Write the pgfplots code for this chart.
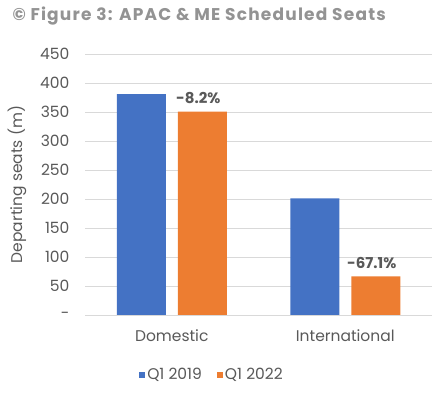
\documentclass[border=0pt]{standalone}
\usepackage{fontspec}
\setmainfont{Poppins}
\usepackage{pgfplots}
\pgfplotsset{compat=1.18}
\definecolor{cblue}{HTML}{4472C4}
\definecolor{corange}{HTML}{ED7D31}
\definecolor{tgray}{HTML}{595959}
\definecolor{ggray}{HTML}{D9D9D9}
\begin{document}
\begin{tikzpicture}
\useasboundingbox (0,0) rectangle (435pt,395pt);
\node[anchor=west, text=gray!85, font=\fontsize{17}{19}\selectfont\bfseries\addfontfeatures{LetterSpace=7}] at (9pt,379pt) {© Figure 3: APAC \& ME Scheduled Seats};
\begin{axis}[
  at={(85pt,80pt)}, anchor=south west,
  scale only axis, width=347pt, height=261pt,
  ymin=0, ymax=450, ytick={0,50,...,450},
  yticklabels={-,50,100,150,200,250,300,350,400,450},
  xmin=-0.5, xmax=1.5, xtick={0,1}, xticklabels={Domestic,International},
  axis line style={draw=none}, major tick style={draw=none},
  ymajorgrids, grid style={ggray, line width=0.8pt},
  ybar, bar width=49pt,
  ylabel={Departing seats (m)},
  every axis y label/.style={at={(axis description cs:-0.196,0.5)}, rotate=90, anchor=center,
    text=tgray, font=\fontsize{15.5}{17}\selectfont},
  yticklabel style={text=tgray, font=\fontsize{15.5}{17}\selectfont, anchor=east, xshift=-12pt},
  xticklabel style={text=tgray, font=\fontsize{15.5}{17}\selectfont, yshift=-7pt},
  /pgf/number format/assume math mode=true,
  legend style={at={(0.366,-0.23)}, anchor=center, draw=none, legend columns=2,
    font=\fontsize{15.5}{17}\selectfont, text=tgray,
    /tikz/every even column/.append style={column sep=13pt}},
  legend image code/.code={\fill[#1] (3pt,-3pt) rectangle (9pt,3pt);},
  clip=false,
]
\addplot[fill=cblue, draw=none, bar shift=-30.5pt] coordinates {(0,381) (1,201)};
\addplot[fill=corange, draw=none, bar shift=30.5pt,
  nodes near coords, point meta=explicit symbolic,
  every node near coord/.append style={text=tgray, font=\fontsize{15}{17}\selectfont\bfseries, anchor=south, yshift=4pt, xshift=-4pt}]
  coordinates {(0,350.5)[-8.2\%] (1,66.7)[-67.1\%]};
\legend{Q1 2019, Q1 2022}
\end{axis}
\end{tikzpicture}
\end{document}
